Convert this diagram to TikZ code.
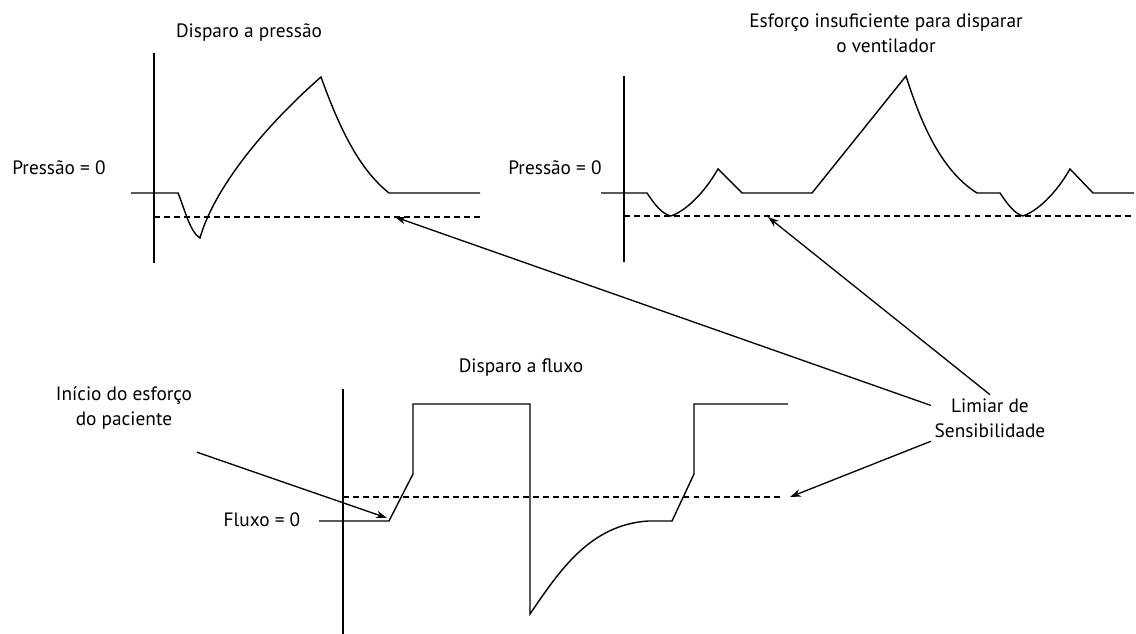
\documentclass[tikz,border=0pt]{standalone}
\usepackage{fontspec}
\setmainfont{PT Sans}
\usepackage{tikz}
\usetikzlibrary{calc,arrows.meta,positioning}
\tikzset{
  ar/.style={-{Stealth[length=2.2mm,width=1.5mm]},line width=0.75pt,black},
  ax/.style={line width=0.75pt,black},
  wave/.style={line width=0.8pt,black,line join=miter},
  thr/.style={line width=0.75pt,black,dash pattern=on 3.4pt off 2.3pt},
  lbl/.style={align=center,inner sep=2pt,font=\fontsize{11}{14.2}\selectfont}
}
\begin{document}
\begin{tikzpicture}[x=0.02cm,y=-0.02cm]
\useasboundingbox (0,0) rectangle (1136,634);
% disparo a pressao
\node[lbl] (tpress) at (249,33) {Disparo a pressão};
\node[lbl] (pzeroA) at (59,168) {Pressão = 0};
\draw[ax] (154,53) -- (154,263);
\draw[thr] (154,217) -- (480,217);
\draw[wave] (131,193) -- (178,193) .. controls (185,210) and (190,232) .. (200,238)
  .. controls (212,195) and (255,135) .. (321,77)
  .. controls (340,130) and (360,170) .. (389,193) -- (480,193);
% esforco insuficiente
\node[lbl] (tinsuf) at (886,33) {Esforço insuficiente para disparar\\o ventilador};
\node[lbl] (pzeroB) at (555,168) {Pressão = 0};
\draw[ax] (624,76) -- (624,262);
\draw[thr] (624,216) -- (1134,216);
\draw[wave] (601,193) -- (647,193) .. controls (655,205) and (662,214) .. (671,216)
  .. controls (685,211) and (703,195) .. (718,169) -- (742,193) -- (812,193) -- (906,76)
  .. controls (920,120) and (940,170) .. (977,193) -- (1000,193)
  .. controls (1008,205) and (1015,214) .. (1023,216)
  .. controls (1037,211) and (1055,195) .. (1070,169) -- (1093,193) -- (1134,193);
% disparo a fluxo
\node[lbl] (tfluxo) at (521,368) {Disparo a fluxo};
\node[lbl] (fzero) at (262,520) {Fluxo = 0};
\node[lbl] (inicio) at (124,408) {Início do esforço\\do paciente};
\draw[ax] (343,389) -- (343,634);
\draw[thr] (343,497) -- (783,497);
\draw[wave] (319,521) -- (389,521) -- (413,474) -- (413,404) -- (530,404) -- (530,614)
  .. controls (560,570) and (590,525) .. (648,521) -- (672,521) -- (694,474)
  -- (694,404) -- (788,404);
% setas
\node[lbl] (limiar) at (990,418) {Limiar de\\Sensibilidade};
\coordinate (thrA) at (395,217);
\coordinate (thrB) at (768,217);
\coordinate (thrC) at (790,497);
\coordinate (onset) at (387,518);
\coordinate (effstart) at ($(inicio.south east)+(1,19)$);
\draw[ar] (limiar.168) -- (thrA);
\draw[ar] (limiar.north) -- (thrB);
\draw[ar] (limiar.south west) -- (thrC);
\draw[ar] (effstart) -- (onset);
\end{tikzpicture}
\end{document}
